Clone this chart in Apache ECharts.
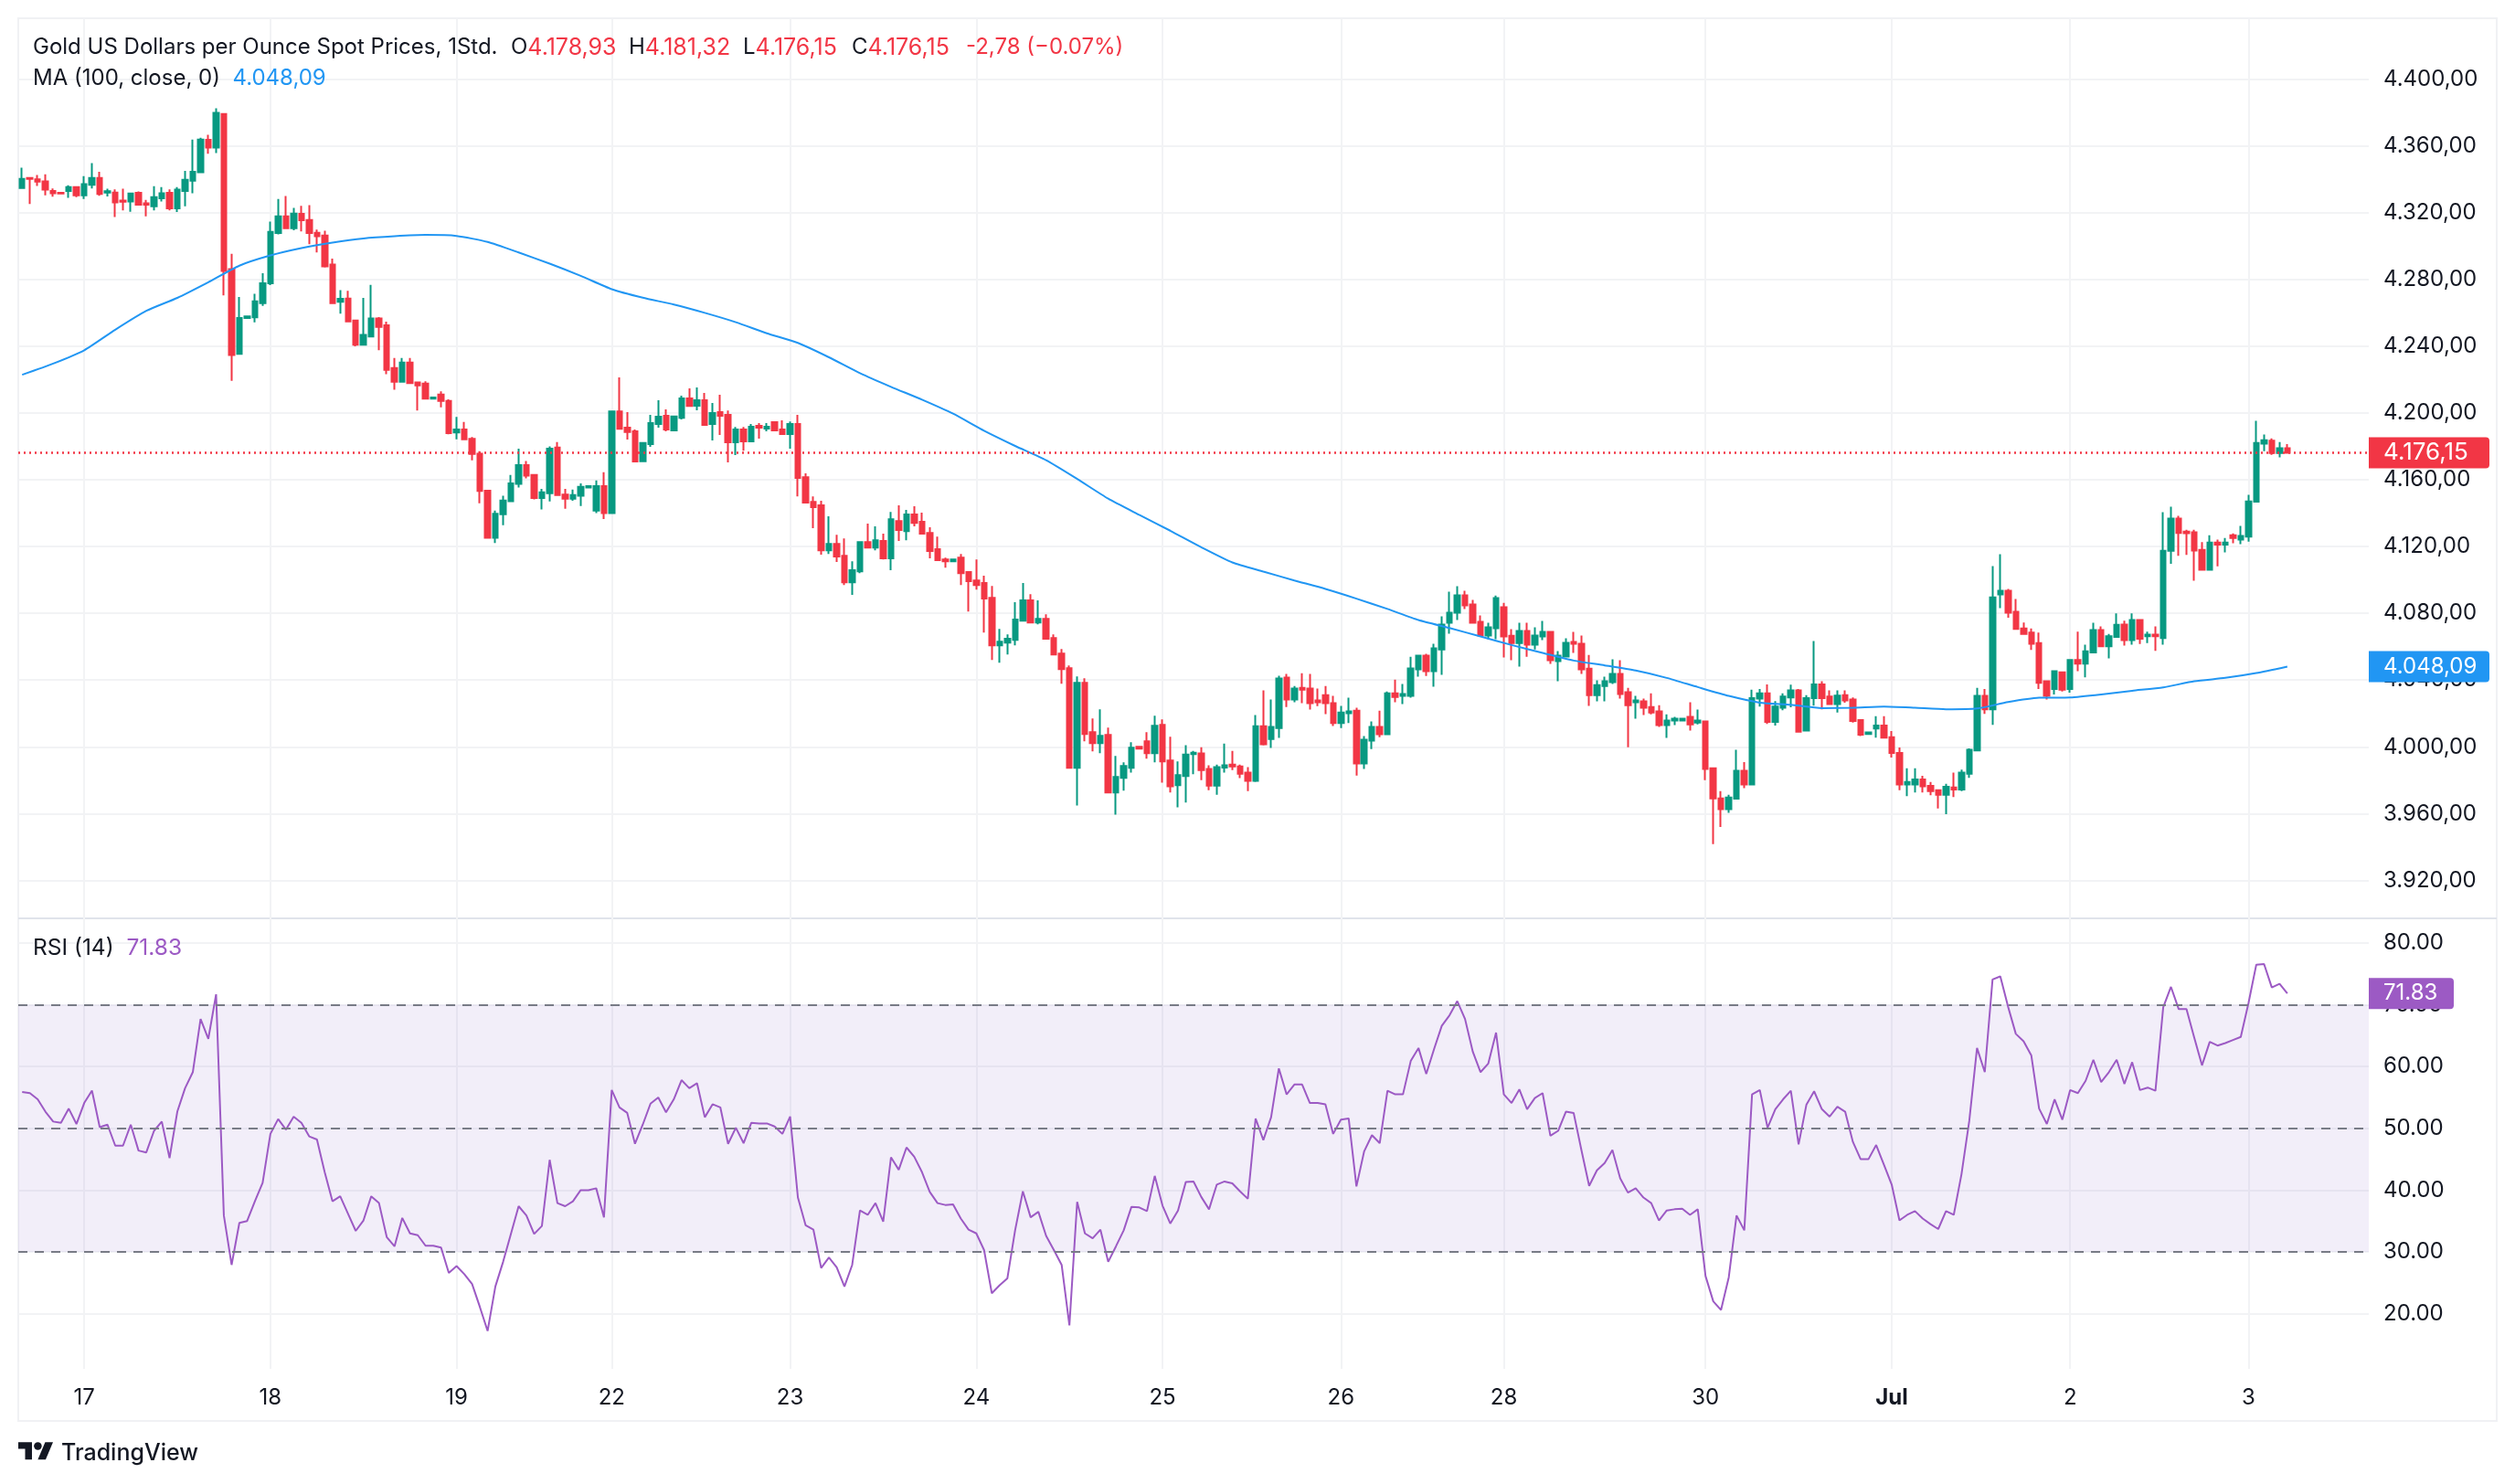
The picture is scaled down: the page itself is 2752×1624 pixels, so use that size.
<!DOCTYPE html>
<html>
<head>
<meta charset="utf-8">
<style>html,body{margin:0;padding:0;background:#fff}#chart{width:2752px;height:1624px}</style>
<script src="https://cdn.jsdelivr.net/npm/echarts@6/dist/echarts.min.js"></script>
</head>
<body>
<div id="chart"></div>
<script>
// Hourly gold candles, one entry per bar.
const opens = [
4334.8,4340.9,4340,4338.8,4333,4331.9,4333,4335.4,4330.4,4336.7,4340.9,4332.1,4332.1,4327.3,4326.8,4331.9,4325.6,4323.9,4328.7,4331.9,
4322.7,4333.1,4339.2,4344.2,4363.7,4359.1,4379.2,4286.2,4235.5,4257,4257.3,4265.9,4277.8,4307.8,4317.8,4310.7,4319.3,4315.7,4308,4306.3,
4288.9,4266.7,4268.6,4255.4,4240.9,4245.9,4256.6,4252.6,4226.9,4218.7,4230.2,4218.3,4217.6,4208.6,4211.1,4207.2,4188.3,4190.2,4184.5,4175.7,
4153.5,4125.2,4139.3,4147.2,4157.5,4168.8,4162.9,4149.1,4152,4179.3,4151.2,4148.7,4150.4,4155.4,4141.6,4156.2,4140,4201,4191.2,4189,
4171.1,4181.4,4193.4,4198.4,4189.6,4197.1,4208.8,4204.4,4207.7,4193.4,4200.5,4198.9,4182.5,4190.1,4183,4192.3,4190.7,4194.5,4190.1,4187.4,
4193.4,4161.6,4146.8,4144.7,4117.8,4121.6,4114.5,4098.6,4105.2,4122.7,4119.4,4123.3,4112.9,4135.3,4129.3,4139.2,4134.8,4128.2,4118.4,4112.3,
4111.2,4113.4,4104.7,4099.7,4098.1,4089.3,4060.8,4062.5,4064.1,4075.6,4087.7,4074.5,4076.7,4065.2,4055.9,4047.1,3987.4,4038.4,4008.8,4002.2,
4007.1,3972.6,3981.4,3987.4,4000,4003.3,3996.2,4013.2,3991.8,3977,3982.5,3995.6,3996,3986.7,3976.8,3987.6,3989.4,3988.3,3984.5,3979.6,
4012.4,4004.7,4011.3,4041.5,4028.3,4035.4,4034.9,4027.8,4031,4026.2,4014.2,4020.1,4021.7,3990,4003.7,4011.9,4007.5,4032.1,4030.5,4030.5,
4046.4,4054.6,4045.3,4058.4,4074.3,4080.4,4090.8,4085.3,4074.9,4066.7,4071,4083.6,4066.6,4062.1,4069.4,4061.2,4066.1,4068.9,4051.3,4054.1,
4062.8,4061.7,4046.9,4031,4036.5,4038.7,4043.7,4032.7,4026.7,4027.2,4023.9,4021.2,4013,4015.7,4015.7,4017.9,4014.6,4015.2,3987.2,3969.1,
3962.6,3969,3985.6,3977.5,4028.9,4032,4015,4023.4,4029.6,4033.8,4009.7,4029.2,4037.4,4030.1,4025.6,4031,4028.3,4016.1,4007.7,4011,
4012.8,4005.8,3996.3,3977.5,3977.5,3980.5,3976.6,3974,3971.3,3975.7,3974.4,3983.9,3997.8,4030.5,4022.5,4091.3,4093.5,4080.9,4070.9,4068.5,
4062.1,4039.3,4034.7,4044.7,4034.7,4052.1,4049.9,4056.6,4070,4060.3,4065.8,4073.2,4063.9,4076,4066.3,4067.2,4065.2,4117.4,4136.8,4129,
4128.6,4118,4106.1,4122.4,4121.1,4126.8,4124.2,4126,4146.9,4181.7,4183.4,4176.1,4178.93];
const closes = [
4340.3,4340.3,4338.6,4333.8,4331.7,4331.5,4335.4,4330.4,4337.1,4340.9,4331.2,4332.9,4326.2,4326.6,4331.5,4324.8,4324.8,4329.4,4331.7,4322.7,
4333.8,4339.8,4344.5,4363.9,4359.1,4379.9,4285.1,4234.8,4257,4257.9,4266.9,4277.8,4308.6,4317.8,4310.7,4319.5,4315.5,4307.8,4305.9,4287.9,
4265.9,4268.4,4254.9,4240.9,4246.8,4256.6,4251.6,4225.8,4218.7,4230.2,4217.9,4216.6,4208.6,4209.3,4207.2,4187.9,4190.2,4184.3,4175.5,4153.3,
4125.2,4139.7,4147.6,4157.9,4168.8,4162.5,4149.1,4152.5,4178.7,4150.8,4148.7,4150.8,4155.8,4156.2,4156.2,4140,4201,4190.5,4188.7,4171,
4182.1,4194,4197.8,4190.1,4198,4208.8,4204.2,4207.7,4192.9,4200,4198.4,4182.5,4190.1,4183,4191.8,4191.2,4191.8,4189.6,4187.4,4193.4,
4161.1,4146.3,4143.6,4117.8,4121.6,4114,4098.6,4105.8,4122.7,4119.4,4123.8,4112.9,4136.4,4129.9,4139.2,4134.2,4127.7,4117.3,4111.8,4111.2,
4112.3,4104.1,4099.2,4097,4088.8,4060.8,4063,4064.7,4076.2,4087.7,4074.5,4076.7,4064.7,4055.3,4046.6,3987.4,4038.4,4007.7,4002.2,4006.6,
3972.6,3981.9,3988.5,3999.5,3998.9,3996.2,4012.6,3991.2,3976.4,3983,3995.4,3996.5,3986.1,3976.8,3987.8,3988.9,3988.3,3983.9,3979.6,4012.4,
4001.5,4011.9,4040.9,4028.3,4034.9,4034.3,4026.2,4026.7,4026.2,4014.2,4020.6,4021.2,3990,4004.2,4011.9,4007.5,4032.1,4029.9,4031.6,4047,
4054.6,4045.3,4059,4073.2,4080.4,4090.8,4084.7,4074.3,4066.7,4071.6,4089.1,4066.1,4062.1,4069.4,4061.2,4066.7,4068.9,4051.9,4054.6,4062.3,
4061.7,4046.4,4031,4037,4039.3,4043.7,4031.6,4025,4027.8,4023.4,4020.6,4013,4015.7,4016.8,4016.8,4013.5,4015.7,3986.7,3969.1,3962.6,
3969.7,3985.6,3977.5,4029.2,4032,4015,4024.1,4030.1,4033.8,4009.1,4029.2,4037.4,4029.2,4025.6,4030.7,4027.8,4015.5,4007.3,4008.6,4012.8,
4005.5,3996.3,3977.5,3979,3980.5,3976.3,3973.5,3971.3,3976.1,3974.4,3984.5,3998.2,4030.5,4022.5,4089.5,4093.5,4080.4,4070.7,4067.6,4061.7,
4038.4,4030.5,4045.3,4034.3,4052.1,4049.9,4057.2,4070,4060.3,4066.3,4073.1,4063.9,4076,4064.8,4067.2,4066.3,4117.4,4136.8,4128.2,4128,
4117.6,4106.1,4122.4,4121.1,4122.4,4125.1,4126.4,4147,4182.1,4183.7,4176.1,4178.93,4176.15];
const lows = [
4334.8,4325.2,4336,4330.4,4329.6,4331.4,4329,4329.4,4328.3,4334.6,4330.2,4329.8,4317.4,4321.4,4320.6,4324.8,4317.8,4321.4,4326.8,4321.4,
4320.4,4323.9,4331.7,4344.2,4355.4,4355.8,4270.5,4219.3,4235.5,4257,4254.3,4264.2,4276.6,4307.1,4310.3,4309.5,4308.8,4301.1,4296.2,4287.2,
4265.4,4259.6,4254.9,4240,4240.7,4245.9,4237.6,4223.3,4214,4218.7,4217.9,4201.5,4208.2,4208.5,4203.4,4187.3,4184.3,4184.3,4171.7,4146,
4125.2,4122.1,4132.8,4147.2,4155.4,4160.8,4148.3,4142.2,4147,4150.8,4142.6,4147.4,4144.3,4155.3,4140,4136.5,4140,4190.1,4184.1,4171,
4170.8,4179.7,4191.2,4189,4189,4196.2,4203.8,4201.6,4192.3,4183.6,4186.8,4170.4,4174.8,4177.4,4183,4184.7,4189,4189,4187.4,4178.6,
4150.1,4146.3,4131,4115.1,4115.6,4110.7,4097,4091,4104.1,4119.4,4117.8,4112.3,4105.8,4123.3,4123.8,4132.1,4127.7,4112.9,4111.8,4107.4,
4111.1,4097,4081.1,4094.2,4068.5,4052,4050.4,4055.3,4060.8,4075.6,4074,4073.4,4064.7,4054.8,4037.8,3987.4,3964.9,4003.3,3997.3,3996.2,
3972.6,3959.4,3973.7,3984.6,3998.8,3992.9,3990.7,3978.6,3972.6,3963.8,3966.6,3983.6,3980.1,3974,3971.3,3984.5,3986,3981.3,3973.5,3979,
4000.9,3999.3,4005.3,4023.9,4026.7,4026.2,4022.4,4024.4,4019.6,4012.5,4011.3,4014.2,3982.8,3986.7,3998.7,4005.8,4007,4026.7,4025.6,4029.4,
4042,4042.5,4036,4043.1,4067.8,4076,4082.6,4073.8,4066.7,4064.5,4064.5,4053.5,4051.9,4048,4054,4058.4,4064,4049.7,4039.3,4054.1,
4056.3,4043.7,4024.5,4027.2,4027.2,4037.6,4028.9,3999.8,4016.8,4019,4019.5,4011.9,4005.3,4013,4015.6,4009.7,4013.5,3980,3941.7,3952,
3960.4,3968.4,3975.3,3977.5,4024.1,4013.7,4012.8,4021.9,4023.7,4008.8,4009.7,4024.7,4022.5,4025.6,4020.6,4026.5,4014.6,4006.4,4007.6,4005.5,
4005.5,3993.6,3974,3970.4,3972.6,3972.6,3971,3963.1,3959.6,3969.9,3973.5,3981.4,3997.8,4019.7,4013.2,4083.1,4077.3,4070.7,4067.6,4058.1,
4034.7,4028.3,4031.4,4033.2,4032.5,4045.3,4041.6,4056.3,4060.3,4053,4065.8,4060.6,4061.2,4061.6,4062.1,4057.5,4061.2,4109.6,4114.5,4115,
4099.6,4106.1,4106.1,4108.1,4116.5,4122,4121.5,4122.9,4146.9,4177.1,4175,4173.5,4176.15];
const highs = [
4347,4341,4342.6,4343,4334.6,4332,4336.5,4335.5,4342,4349.7,4344.5,4334.4,4334,4334.4,4331.5,4332.7,4327.7,4335.9,4335.4,4334,
4335.4,4345.1,4363.9,4365,4366.7,4382.6,4379.2,4295.4,4269.6,4258,4271.5,4283.7,4314.7,4328.3,4330,4322.9,4324.1,4324.5,4309.9,4309.2,
4292.5,4273.6,4273.2,4255.4,4269,4276.8,4257.5,4254.7,4233,4233,4233,4218.7,4219,4209.5,4213,4208.2,4197.7,4194.6,4185.6,4177.2,
4153.5,4141.6,4150.4,4162.9,4178.7,4171.3,4162.9,4154.6,4180,4182.6,4154.6,4154.2,4157.9,4156.3,4159.6,4164.6,4201,4221.4,4200.5,4190.1,
4182.5,4198.9,4207.7,4202.2,4198.4,4210.4,4214.8,4215.3,4212.1,4206,4211,4201.5,4191.6,4191.6,4193.4,4194,4194,4195,4195.6,4195,
4198.9,4163.8,4150.1,4147.4,4138.1,4127.1,4124.9,4111.2,4122.7,4133.7,4132.1,4127.7,4140.8,4144.7,4141.9,4144.1,4140.3,4131.5,4126,4113.4,
4112.4,4115.6,4104.7,4112.3,4102.5,4096.4,4070.7,4067.4,4086.6,4098.1,4091.5,4087.7,4079.4,4067.4,4058.6,4048.8,4042.2,4041.1,4017,4022.5,
4011.5,3994.5,3990.7,4002.7,4000.1,4008.8,4018.6,4016.5,4006,3991.2,4001,3997.6,3999.8,3988.9,3989.4,4002,3997.6,3989.4,3987.8,4019,
4033.8,4028.4,4042.6,4043.7,4036.5,4044.1,4043.7,4034.9,4036.5,4030.6,4024.5,4029.4,4023.4,4006.4,4015.2,4021.7,4033.2,4040.2,4037.6,4054,
4055.1,4055.7,4061.7,4078.2,4093,4096.3,4093.5,4088,4078.7,4074.3,4090.7,4086.3,4070.5,4074.3,4074.3,4071.6,4075.4,4068.9,4057.4,4065,
4068.9,4066.7,4055.1,4039.8,4042,4052.5,4051.9,4035.4,4030.5,4028.9,4032.1,4025,4019.5,4017.9,4016.9,4026.7,4022.3,4015.2,3987.2,3973.5,
3971.3,3998.2,3990.9,4034.3,4034.7,4037.4,4027.4,4032,4037.3,4034.7,4031,4063.4,4039.3,4033.8,4033.8,4033.8,4029.6,4016.4,4008.7,4018.3,
4018.3,4009.5,3999.6,3987.2,3987.2,3982.6,3979,3974,3977.9,3984.5,3986.3,3999.1,4035.3,4034.7,4108.3,4115.4,4094.6,4088.6,4074.5,4070.9,
4068.5,4039.8,4045.3,4044.7,4052.4,4069,4061.2,4074.3,4072.1,4067.6,4080,4075.6,4080,4076.4,4069,4072.1,4140.6,4143.9,4138.4,4130,
4130,4122.6,4126.8,4124.2,4125.1,4127.9,4132.4,4151,4195.4,4187.2,4184.8,4182.6,4181.32];

// 100-period moving average, read at every fourth bar.
const maBars = [0,4,8,12,16,20,24,28,32,36,40,44,48,52,56,60,64,68,72,76,80,84,88,92,96,100,104,108,112,116,120,124,128,132,136,140,144,148,152,156,160,164,168,172,176,180,184,188,192,196,200,204,208,212,216,220,224,228,232,236,240,244,248,252,256,260,264,268,272,276,280,284,288,292];
const maValues = [4222.9,4229.6,4237.6,4249.9,4261.2,4269,4278.4,4288.3,4294.4,4298.8,4302.1,4304.6,4305.9,4306.7,4306.1,4302.5,4296.2,4289.5,4282.2,4274.2,4269.1,4265,4260,4254.4,4247.8,4242,4233.4,4223.9,4215.7,4208,4199.6,4189.4,4180.3,4171.7,4160.5,4148.7,4139,4129.5,4119.6,4110.5,4105,4099.7,4094.6,4088.8,4082.6,4076,4071.2,4066.1,4061,4056.3,4051.7,4048.8,4045.7,4041.3,4035.8,4030.5,4026.5,4025.2,4023.2,4023.4,4024.1,4023.4,4022.5,4023,4026.8,4029.4,4029.6,4031.4,4033.6,4035.6,4039.3,4041.3,4044.2,4048.09];

// RSI (14), one value per bar.
const rsiValues = [
55.9,55.7,54.7,52.7,51.1,50.9,53.2,50.7,54.1,56.1,50.2,50.6,47.2,47.2,50.6,46.4,46.1,49.6,51.1,45.2,
52.7,56.5,59.1,67.7,64.5,71.7,35.9,27.9,34.7,35,38.2,41.2,49.1,51.5,49.8,51.9,50.9,48.7,48.2,42.9,
38.2,39,36.2,33.4,35.1,39,37.9,32.4,30.9,35.5,33,32.7,31,31,30.7,26.6,27.7,26.4,24.8,21.1,
17.2,24.4,28.4,32.9,37.4,35.9,32.9,34.2,44.9,37.9,37.4,38.2,40,40,40.3,35.6,56.2,53.4,52.5,47.5,
50.6,54,55,52.6,54.7,57.8,56.5,57.3,51.8,53.9,53.4,47.5,50.1,47.6,50.9,50.8,50.8,50.3,49.1,51.9,
38.8,34.3,33.6,27.4,29.1,27.5,24.4,27.9,36.7,36,37.9,34.9,45.3,43.3,46.9,45.4,42.9,39.7,37.9,37.6,
37.7,35.4,33.6,33,30.3,23.3,24.6,25.7,33.5,39.8,35.6,36.5,32.6,30.3,27.9,18.1,38.1,33,32.2,33.6,
28.4,30.9,33.5,37.3,37.2,36.6,42.3,37.5,34.6,36.7,41.3,41.4,38.9,36.9,40.9,41.4,41.1,39.8,38.6,51.6,
48.1,51.8,59.7,55.5,57.1,57.1,54.1,54.1,53.9,49.1,51.4,51.6,40.6,46.3,48.9,47.6,56.1,55.5,55.5,60.9,
63,58.8,62.8,66.6,68.3,70.6,67.7,62.4,59.1,60.5,65.5,55.5,54.1,56.3,53.1,54.9,55.7,48.8,49.6,52.7,
52.5,46.5,40.7,43.2,44.4,46.5,41.9,39.6,40.3,38.8,37.9,35.1,36.7,36.9,37,36,36.9,26.1,22,20.6,
25.9,35.9,33.5,55.5,56.2,50.1,53.1,54.7,56.1,47.4,53.8,56,53.1,51.9,53.5,52.7,47.8,45,45,47.3,
44.1,40.9,35.1,36,36.6,35.4,34.5,33.7,36.6,36,42.6,51.2,63,59.1,74.1,74.6,69.7,65.3,64.1,61.8,
53.2,50.7,54.7,51.4,56.2,55.7,57.7,61.1,57.5,59.1,61.1,57.2,60.7,56.2,56.6,56.1,69.6,72.9,69.3,69.3,
64.7,60.2,64,63.4,63.8,64.3,64.8,70.3,76.5,76.6,72.8,73.4,71.83];

// Session labels along the time axis and the bar each one falls on.
const dayBars = [8,32,56,76,99,123,147,170,191,217,241,264,287];
const dayNames = ['17','18','19','22','23','24','25','26','28','30','Jul','2','3'];
const emptyBars = 10;

const priceTicks = [3920,3960,4000,4040,4080,4120,4160,4200,4240,4280,4320,4360,4400];
const rsiTicks = [20,30,40,50,60,70,80];
const rsiGuides = [70,50,30];

const RED = '#F23645', GREEN = '#089981', BLUE = '#2196F3', PURPLE = '#9C5AC4';
const INK = '#131722', GRID = '#F2F3F5', FONT = 'Inter, "Noto Sans", sans-serif';

const euro = v => v.toFixed(2).replace('.', ',').replace(/\B(?=(\d{3})(?!\d))/g, '.');

const barCount = closes.length;
const categories = [];
for (let i = 0; i < barCount + emptyBars; i++) {
  const at = dayBars.indexOf(i);
  categories.push(at >= 0 ? dayNames[at] : '');
}
const candles = closes.map((c, i) => [opens[i], c, lows[i], highs[i]]);
const maLine = maBars.map((b, i) => [b, maValues[i]]);
const lastClose = closes[barCount - 1];
const lastMa = maValues[maValues.length - 1];
const lastRsi = rsiValues[barCount - 1];
const change = lastClose - closes[barCount - 2];
const changePct = change / closes[barCount - 2] * 100;
const isDayBar = i => dayBars.indexOf(i) >= 0;

const tagLabel = (bg, text, width, size) => ({
  show: true, position: 'end', distance: 0, formatter: text,
  color: '#fff', backgroundColor: bg, fontFamily: FONT, fontSize: size,
  width, height: 34, lineHeight: 34, padding: [0, 0, 0, 16], align: 'left',
  borderRadius: [0, 4, 4, 0]
});

// One "O4.178,93" style reading in the legend row.
const reading = (x, key, value) => ({
  type: 'text', z: 10, x, y: 52, silent: true,
  style: {
    text: '{k|' + key + '}{r|' + value + '}', verticalAlign: 'middle', font: '24px ' + FONT,
    rich: { k: { fill: INK, font: '24px ' + FONT }, r: { fill: RED, font: '25px ' + FONT } }
  }
});

const chart = echarts.init(document.getElementById('chart'), null, { renderer: 'canvas' });

const sharedX = {
  type: 'category', data: categories, boundaryGap: true,
  axisLine: { show: false }, axisTick: { show: false },
  splitLine: { show: true, alignWithLabel: true, interval: isDayBar, lineStyle: { color: GRID, width: 2 } }
};
const sharedY = {
  type: 'value', position: 'right', scale: true,
  axisLine: { show: false },
  splitLine: { show: true, lineStyle: { color: GRID, width: 2 } }
};

chart.setOption({
  animation: false,
  backgroundColor: '#ffffff',
  grid: [
    { left: 20, top: 20, width: 2572, height: 985 },
    { left: 20, top: 1005, width: 2572, height: 493 }
  ],
  xAxis: [
    Object.assign({}, sharedX, { gridIndex: 0, axisLabel: { show: false } }),
    Object.assign({}, sharedX, {
      gridIndex: 1,
      axisLabel: {
        show: true, interval: isDayBar, margin: 20, color: INK, fontFamily: FONT, fontSize: 24,
        formatter: v => v === 'Jul' ? '{month|Jul}' : v,
        rich: { month: { fontWeight: 700, fontSize: 24, fontFamily: FONT, color: INK } }
      }
    })
  ],
  yAxis: [
    Object.assign({}, sharedY, {
      gridIndex: 0, min: 3897.23, max: 4436.52,
      axisTick: { show: false, customValues: priceTicks },
      axisLabel: { customValues: priceTicks, margin: 16, color: INK, fontFamily: FONT, fontSize: 24, formatter: euro }
    }),
    Object.assign({}, sharedY, {
      gridIndex: 1, min: 11.07, max: 83.99,
      axisTick: { show: false, customValues: rsiTicks },
      axisLabel: { customValues: rsiTicks, margin: 16, padding: [3, 0, 0, 0], color: INK, fontFamily: FONT, fontSize: 24, formatter: v => v.toFixed(2) }
    })
  ],
  series: [
    {
      type: 'candlestick', name: 'Gold', xAxisIndex: 0, yAxisIndex: 0,
      data: candles, barWidth: 6,
      itemStyle: { color: GREEN, color0: RED, borderColor: GREEN, borderColor0: RED, borderWidth: 2 },
      markLine: {
        silent: true, symbol: 'none', animation: false,
        data: [{ yAxis: lastClose }],
        lineStyle: { color: RED, type: [2, 4], width: 2.5 },
        label: tagLabel(RED, euro(lastClose), 116, 26)
      }
    },
    {
      type: 'line', name: 'MA', xAxisIndex: 0, yAxisIndex: 0,
      data: maLine, showSymbol: false, symbol: 'none', smooth: 0.2,
      lineStyle: { color: BLUE, width: 2 },
      markLine: {
        silent: true, symbol: 'none', animation: false,
        data: [{ yAxis: lastMa }],
        lineStyle: { color: 'rgba(0,0,0,0)', width: 1 },
        label: tagLabel(BLUE, euro(lastMa), 116, 24)
      }
    },
    {
      type: 'line', name: 'RSI', xAxisIndex: 1, yAxisIndex: 1,
      data: rsiValues, showSymbol: false, symbol: 'none',
      lineStyle: { color: PURPLE, width: 2 },
      markArea: {
        silent: true, animation: false,
        itemStyle: { color: 'rgba(126,87,194,0.1)' },
        data: [[{ yAxis: rsiGuides[2] }, { yAxis: rsiGuides[0] }]]
      },
      markLine: {
        silent: true, symbol: 'none', animation: false,
        lineStyle: { color: '#787B86', type: [10, 8], width: 2 },
        label: { show: false },
        data: rsiGuides.map(v => ({ yAxis: v })).concat([{
          yAxis: lastRsi,
          lineStyle: { color: 'rgba(0,0,0,0)', width: 1 },
          label: tagLabel(PURPLE, lastRsi.toFixed(2), 77, 24)
        }])
      }
    }
  ],
  graphic: [
    { type: 'rect', silent: true, z: 0, shape: { x: 20, y: 20, width: 2712, height: 1535 }, style: { fill: null, stroke: '#F0F1F4', lineWidth: 2 } },
    { type: 'rect', silent: true, z: 0, shape: { x: 20, y: 1004, width: 2712, height: 2 }, style: { fill: '#E0E3EB' } },
    {
      type: 'text', z: 10, x: 36, y: 52, silent: true,
      style: { text: 'Gold US Dollars per Ounce Spot Prices, 1Std.', verticalAlign: 'middle', font: '24px ' + FONT, fill: INK }
    },
    reading(559, 'O', euro(opens[barCount - 1])),
    reading(688, 'H', euro(highs[barCount - 1])),
    reading(813, 'L', euro(lows[barCount - 1])),
    reading(932, 'C', euro(lastClose)),
    {
      type: 'text', z: 10, x: 1057, y: 52, silent: true,
      style: { text: euro(change) + ' (\u2212' + Math.abs(changePct).toFixed(2) + '%)', verticalAlign: 'middle', font: '24px ' + FONT, fill: RED }
    },
    {
      type: 'text', z: 10, x: 36, y: 86, silent: true,
      style: {
        text: '{k|MA (100, close, 0)}  {b|' + euro(lastMa) + '}', verticalAlign: 'middle', font: '24px ' + FONT,
        rich: { k: { fill: INK, font: '24px ' + FONT }, b: { fill: BLUE, font: '24px ' + FONT } }
      }
    },
    {
      type: 'text', z: 10, x: 36, y: 1038, silent: true,
      style: {
        text: '{k|RSI (14)}  {p|' + lastRsi.toFixed(2) + '}', verticalAlign: 'middle', font: '24.5px ' + FONT,
        rich: { k: { fill: INK, font: '24.5px ' + FONT }, p: { fill: PURPLE, font: '24.5px ' + FONT } }
      }
    },
    {
      type: 'group', z: 10, x: 20, y: 1574, scaleX: 1.07, scaleY: 1.056, silent: true,
      children: [
        { type: 'polygon', silent: true, shape: { points: [[14, 22], [7, 22], [7, 11], [0, 11], [0, 4], [14, 4]] }, style: { fill: INK } },
        { type: 'polygon', silent: true, shape: { points: [[28, 22], [20, 22], [27.5, 4], [35.5, 4]] }, style: { fill: INK } },
        { type: 'circle', silent: true, shape: { cx: 20, cy: 8, r: 4 }, style: { fill: INK } }
      ]
    },
    {
      type: 'text', z: 10, x: 67, y: 1590, silent: true,
      style: { text: 'TradingView', verticalAlign: 'middle', font: '500 25px ' + FONT, fill: INK }
    }
  ]
});
</script>
</body>
</html>
